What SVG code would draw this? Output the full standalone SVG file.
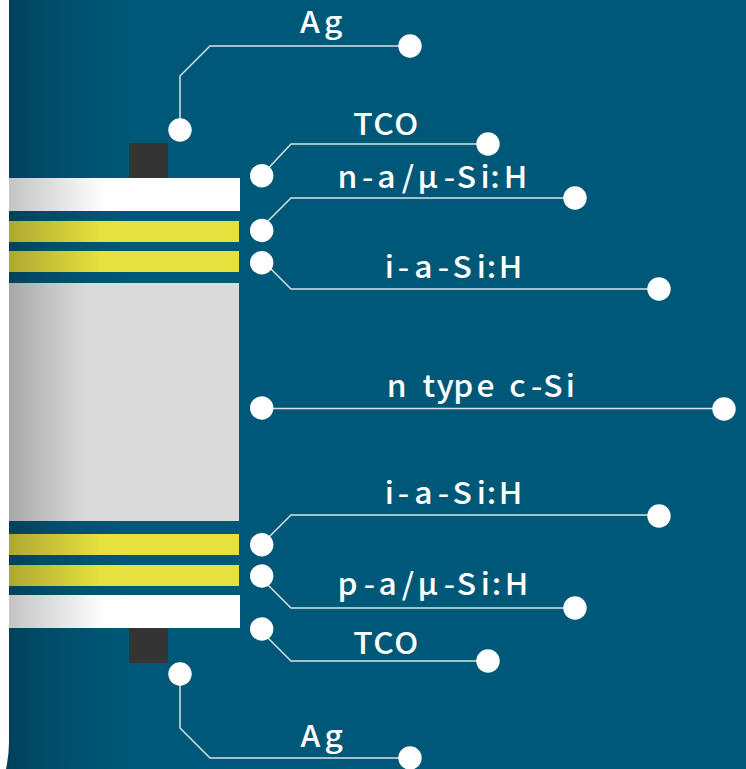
<svg xmlns="http://www.w3.org/2000/svg" width="746" height="769" viewBox="0 0 746 769">
<defs>
<linearGradient id="bg" gradientUnits="userSpaceOnUse" x1="9" y1="0" x2="130" y2="0"><stop offset="0" stop-color="#00415a"/><stop offset="0.3" stop-color="#004c69"/><stop offset="1" stop-color="#005878"/></linearGradient>
<linearGradient id="w" gradientUnits="userSpaceOnUse" x1="9" y1="0" x2="105" y2="0"><stop offset="0" stop-color="#c4c4c4"/><stop offset="1" stop-color="#ffffff"/></linearGradient>
<linearGradient id="y" gradientUnits="userSpaceOnUse" x1="9" y1="0" x2="100" y2="0"><stop offset="0" stop-color="#aea833"/><stop offset="1" stop-color="#e6e13e"/></linearGradient>
<linearGradient id="g" gradientUnits="userSpaceOnUse" x1="9" y1="0" x2="85" y2="0"><stop offset="0" stop-color="#a8a8a8"/><stop offset="1" stop-color="#dadada"/></linearGradient>
</defs>
<style>
.c{fill:none;stroke:#d5e3ea;stroke-width:1.5}
.d{fill:#fff}
text{font-family:"Noto Sans CJK SC","Noto Sans",sans-serif;font-size:30px;font-weight:500;fill:#fff}
</style>
<rect width="746" height="769" fill="#fff"/>
<path id="background" d="M9 0H746V769H6Q9 755 9 742Z" fill="url(#bg)"/>
<g id="stack">
<rect x="129" y="143" width="39" height="35" fill="#343434"/>
<rect x="9" y="178" width="231" height="33" fill="url(#w)"/>
<rect x="9" y="221" width="230" height="21" fill="url(#y)"/>
<rect x="9" y="251" width="230" height="21" fill="url(#y)"/>
<rect x="9" y="283" width="230" height="238" fill="url(#g)"/>
<rect x="9" y="534" width="230" height="21" fill="url(#y)"/>
<rect x="9" y="565" width="230" height="21" fill="url(#y)"/>
<rect x="9" y="595" width="231" height="33" fill="url(#w)"/>
<rect x="129" y="628" width="39" height="35" fill="#343434"/>
</g>
<g id="connectors">
<path class="c" d="M180 130V76L210 46H410"/>
<path class="c" d="M262 175L291 144H488"/>
<path class="c" d="M262 227L291 198H575"/>
<path class="c" d="M264 262L291 289H659"/>
<path class="c" d="M262 408.500H724"/>
<path class="c" d="M262 544L291 515H659"/>
<path class="c" d="M262 579L291 608H575"/>
<path class="c" d="M262 632L291 661H488"/>
<path class="c" d="M180 674V728L210 758H410"/>
</g>
<g id="node-ag-top"><circle class="d" cx="180" cy="130" r="11.7"/><circle class="d" cx="410" cy="46" r="11.7"/><text transform="translate(300 33.300) scale(1.06 1)" x="0 22.600">Ag</text></g>
<g id="node-tco-top"><circle class="d" cx="261.700" cy="175.700" r="11.7"/><circle class="d" cx="488" cy="144" r="11.7"/><text transform="translate(353.300 135) scale(1.06 1)" x="0 18.900 38.700">TCO</text></g>
<g id="node-n-a"><circle class="d" cx="261.700" cy="230.500" r="11.7"/><circle class="d" cx="575" cy="198" r="11.7"/><text transform="translate(337.400 188.300) scale(1.06 1)" x="0 23.300 37.700 60.600 75.500 100.300 112.500 134.900 144.300 157">n-a/μ-Si:H</text></g>
<g id="node-i-a-top"><circle class="d" cx="261.700" cy="262.700" r="11.7"/><circle class="d" cx="659" cy="289" r="11.7"/><text transform="translate(384.700 278.300) scale(1.06 1)" x="0 12.300 28 50 63.900 86.800 96.200 107.600">i-a-Si:H</text></g>
<g id="node-n-type"><circle class="d" cx="261.700" cy="408" r="11.7"/><circle class="d" cx="724" cy="409" r="11.7"/><text transform="translate(386.700 396.700) scale(1.06 1)" x="0 16 33.700 47.100 62.900 84.800 100 115.700 136.200 147.800 168.900">n type c-Si</text></g>
<g id="node-i-a-bottom"><circle class="d" cx="261.700" cy="544.700" r="11.7"/><circle class="d" cx="659" cy="516" r="11.7"/><text transform="translate(384.700 504.300) scale(1.06 1)" x="0 12.300 28 50 63.900 86.800 96.200 107.600">i-a-Si:H</text></g>
<g id="node-p-a"><circle class="d" cx="261.700" cy="576" r="11.7"/><circle class="d" cx="575" cy="608" r="11.7"/><text transform="translate(337.400 595) scale(1.06 1)" x="0 24.800 38.700 60.600 75.500 100.300 112.500 135.200 145.600 157.900">p-a/μ-Si:H</text></g>
<g id="node-tco-bottom"><circle class="d" cx="261.700" cy="629" r="11.7"/><circle class="d" cx="488" cy="661" r="11.7"/><text transform="translate(353.300 654.300) scale(1.06 1)" x="0 18.900 38.700">TCO</text></g>
<g id="node-ag-bottom"><circle class="d" cx="180" cy="674" r="11.7"/><circle class="d" cx="410" cy="758" r="11.7"/><text transform="translate(300.500 746.700) scale(1.06 1)" x="0 22.600">Ag</text></g>
</svg>
